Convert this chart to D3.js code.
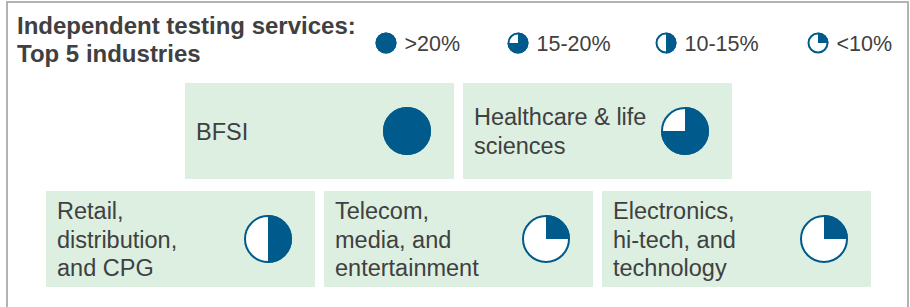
<!DOCTYPE html>
<html><head><meta charset="utf-8">
<script src="https://cdn.jsdelivr.net/npm/d3@7"></script>
<style>body{margin:0;background:#fff;}svg{display:block;font-family:"Liberation Sans",Arial,sans-serif;}</style>
</head><body>
<script>
const titleLines = ["Independent testing services:", "Top 5 industries"];
const legendLabels = [">20%", "15-20%", "10-15%", "<10%"];
const legendShares = [1, 0.75, 0.5, 0.25];
const industries = ["BFSI", "Healthcare & life sciences", "Retail, distribution, and CPG", "Telecom, media, and entertainment", "Electronics, hi-tech, and technology"];
const industryLines = [["BFSI"], ["Healthcare & life", "sciences"], ["Retail,", "distribution,", "and CPG"], ["Telecom,", "media, and", "entertainment"], ["Electronics,", "hi-tech, and", "technology"]];
const industryShares = [1, 0.75, 0.5, 0.25, 0.25];
const industryRow = [0, 0, 1, 1, 1];
const industryCol = [0, 1, 0, 1, 2];

const W = 910, H = 307;
const blue = "#005a8c", textC = "#404040", boxFill = "#dcefe0";
const svg = d3.select("body").append("svg").attr("width", W).attr("height", H);

// frame
svg.append("path").attr("d", `M7,${H} V2 H908 V${H}`).attr("fill", "none").attr("stroke", "#b3b3b3").attr("stroke-width", 2);

// title
svg.append("g").selectAll("text").data(titleLines).join("text")
  .attr("x", 17).attr("y", (d, i) => 34 + i * 28)
  .attr("font-size", 24).attr("font-weight", "bold").attr("fill", textC).text(d => d);

const angle = d3.scaleLinear().domain([0, 1]).range([0, 2 * Math.PI]);
function drawPie(g, share, r) {
  g.append("circle").attr("r", r - 1).attr("fill", "#fff").attr("stroke", blue).attr("stroke-width", 2);
  if (share >= 1) {
    g.append("circle").attr("r", r).attr("fill", blue);
  } else {
    g.append("path").attr("d", d3.arc().innerRadius(0).outerRadius(r).startAngle(0).endAngle(angle(share))()).attr("fill", blue);
  }
}

// legend
const legX = d3.scaleOrdinal().domain(legendLabels).range([386, 518, 666, 818]);
const leg = svg.append("g").selectAll("g").data(legendLabels).join("g")
  .attr("transform", d => `translate(${legX(d)},43)`);
leg.each(function(d, i) { drawPie(d3.select(this), legendShares[i], 10.5); });
leg.append("text").attr("x", 18.5).attr("y", 7.5).attr("font-size", 21.5).attr("fill", textC).text(d => d);

// boxes
const boxW = 269, boxH = 96;
const rowY = d3.scaleOrdinal().domain([0, 1]).range([83, 191]);
const rowX0 = d3.scaleOrdinal().domain([0, 1]).range([185, 46]);
const step = 278;
const boxes = svg.append("g").selectAll("g").data(industries).join("g")
  .attr("transform", (d, i) => `translate(${rowX0(industryRow[i]) + industryCol[i] * step},${rowY(industryRow[i])})`);
boxes.append("rect").attr("width", boxW).attr("height", boxH).attr("fill", boxFill);
boxes.each(function(d, i) {
  const g = d3.select(this);
  const lines = industryLines[i];
  const lh = 28.5;
  const y0 = boxH / 2 - (lines.length - 1) * lh / 2 + 8.5;
  g.append("g").selectAll("text").data(lines).join("text")
    .attr("x", 11).attr("y", (l, j) => y0 + j * lh)
    .attr("font-size", 23.5).attr("fill", textC).text(l => l);
  drawPie(g.append("g").attr("transform", `translate(${boxW - 47},${boxH / 2})`), industryShares[i], 24);
});
</script>
</body></html>
